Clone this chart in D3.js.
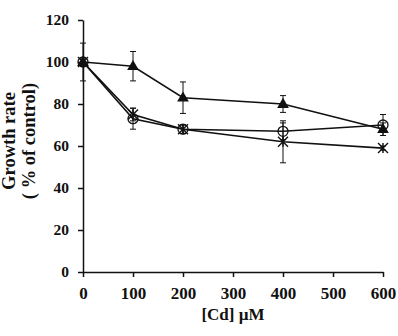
<!DOCTYPE html>
<html>
<head>
<meta charset="utf-8">
<script src="https://cdn.jsdelivr.net/npm/d3@7"></script>
<style>
  body { margin: 0; background: #fff; }
  text { font-family: "Liberation Serif", "Times New Roman", serif; font-weight: bold; fill: #111; }
</style>
</head>
<body>
<div id="chart"></div>
<script>
var doses = [0, 100, 200, 400, 600];
var triangleVals = [100, 98, 83, 80, 68];
var triangleErr = [9, 7, 7.5, 4, 3];
var circleVals = [100, 73, 68, 67, 70];
var circleErr = [2, 5, 2, 4, 5];
var starVals = [100, 75, 68, 62, 59];
var starErr = [2, 3, 2, 10, 1];
var xTicks = [0, 100, 200, 300, 400, 500, 600];
var yTicks = [0, 20, 40, 60, 80, 100, 120];

function init() {
    var w = 398;
    var h = 336;
    var margin = { top: 20, right: 15, bottom: 64, left: 83 };
    var innerWidth = 300;
    var innerHeight = 252;
    var ink = "#111";

    var xScale = d3.scaleLinear().domain([0, 600]).range([0, innerWidth]);
    var yScale = d3.scaleLinear().domain([0, 120]).range([innerHeight, 0]);

    var svg = d3.select("#chart")
        .append("svg")
        .attr("width", w)
        .attr("height", h)
        .append("g")
        .attr("transform", "translate(" + margin.left + "," + margin.top + ")");

    // axes
    var xAxis = svg.append("g")
        .attr("transform", "translate(0," + innerHeight + ")")
        .call(d3.axisBottom(xScale).tickValues(xTicks).tickSize(5).tickPadding(10).tickSizeOuter(0));
    var yAxis = svg.append("g")
        .call(d3.axisLeft(yScale).tickValues(yTicks).tickSize(5).tickPadding(9).tickSizeOuter(0));

    xAxis.selectAll("text").style("font-size", "17px");
    yAxis.selectAll("text").style("font-size", "15.5px");
    [xAxis, yAxis].forEach(function(a) {
        a.selectAll("path, line").attr("stroke", ink).attr("stroke-width", 1.5);
    });

    var series = [
        { vals: triangleVals, err: triangleErr, mark: "triangle" },
        { vals: circleVals, err: circleErr, mark: "circle" },
        { vals: starVals, err: starErr, mark: "star" }
    ];

    var line = d3.line()
        .x(function(d) { return xScale(d[0]); })
        .y(function(d) { return yScale(d[1]); });

    series.forEach(function(s) {
        var pts = doses.map(function(x, i) { return [x, s.vals[i], s.err[i]]; });

        svg.append("path")
            .datum(pts)
            .attr("d", line)
            .attr("fill", "none")
            .attr("stroke", ink)
            .attr("stroke-width", 1.6);

        // error bars
        var eb = svg.append("g").attr("stroke", ink).attr("stroke-width", 1);
        pts.forEach(function(p) {
            var x = xScale(p[0]);
            var y0 = yScale(p[1] - p[2]);
            var y1 = yScale(p[1] + p[2]);
            eb.append("line").attr("x1", x).attr("x2", x).attr("y1", y0).attr("y2", y1);
            eb.append("line").attr("x1", x - 3).attr("x2", x + 3).attr("y1", y0).attr("y2", y0);
            eb.append("line").attr("x1", x - 3).attr("x2", x + 3).attr("y1", y1).attr("y2", y1);
        });

        var g = svg.append("g");
        pts.forEach(function(p) {
            var x = xScale(p[0]);
            var y = yScale(p[1]);
            if (s.mark === "triangle") {
                g.append("path")
                    .attr("d", d3.symbol(d3.symbolTriangle, 60)())
                    .attr("transform", "translate(" + x + "," + (y + 0.5) + ")")
                    .attr("fill", ink);
            } else if (s.mark === "circle") {
                g.append("circle")
                    .attr("cx", x).attr("cy", y).attr("r", 5)
                    .attr("fill", "none").attr("stroke", ink).attr("stroke-width", 1.3);
            } else {
                var r = 5;
                g.append("path")
                    .attr("d", "M" + (x - r) + "," + (y - r) + "L" + (x + r) + "," + (y + r) +
                        "M" + (x - r) + "," + (y + r) + "L" + (x + r) + "," + (y - r) +
                        "M" + x + "," + (y - r) + "L" + x + "," + (y + r))
                    .attr("stroke", ink).attr("stroke-width", 1.4);
            }
        });
    });

    // axis titles
    svg.append("text")
        .attr("x", xScale(300) + 0)
        .attr("y", innerHeight + 48)
        .attr("text-anchor", "middle")
        .style("font-size", "17px")
        .text("[Cd] µM");

    var midY = innerHeight / 2 - 5;
    svg.append("text")
        .attr("transform", "translate(" + (15 - margin.left) + "," + midY + ") rotate(-90)")
        .attr("text-anchor", "middle")
        .style("font-size", "18.5px")
        .text("Growth rate");
    svg.append("text")
        .attr("transform", "translate(" + (35 - margin.left) + "," + midY + ") rotate(-90)")
        .attr("text-anchor", "middle")
        .style("font-size", "18.5px")
        .text("( % of control)");
}

window.onload = init;
</script>
</body>
</html>
